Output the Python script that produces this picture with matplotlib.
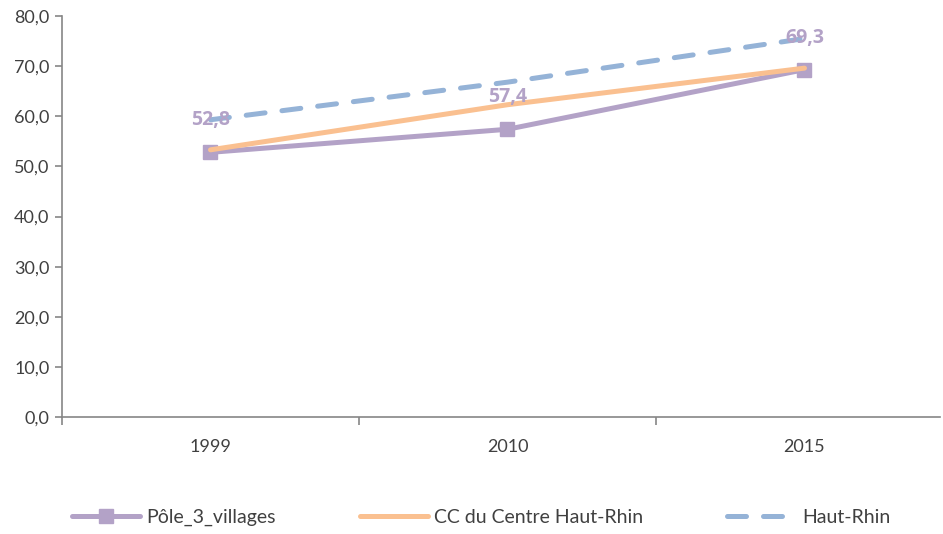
import matplotlib.pyplot as plt

plt.rcParams['font.family'] = ['Lato', 'DejaVu Sans']

# données
annees = ['1999', '2010', '2015']
pole = [52.8, 57.4, 69.3]
cc_centre = [53.3, 62.3, 69.6]
haut_rhin = [59.3, 66.8, 75.5]
labels_pole = ['52,8', '57,4', '69,3']
yticks = [0, 10, 20, 30, 40, 50, 60, 70, 80]

violet = '#B3A2C7'
orange = '#FAC090'
bleu = '#95B3D7'
gris = '#868686'

fig = plt.figure(figsize=(9.43, 5.34), dpi=100)
ax = fig.add_axes([62 / 943, 117 / 534, 878 / 943, 401 / 534])

x = list(range(len(annees)))
ax.plot(x, haut_rhin, color=bleu, lw=3.6, linestyle=(0, (3.8, 3.4)),
        dash_capstyle='round', label='Haut-Rhin', zorder=2)
ax.plot(x, pole, color=violet, lw=3.6, marker='s', markersize=10,
        solid_capstyle='round', label='Pôle_3_villages', zorder=3)
ax.plot(x, cc_centre, color=orange, lw=3.6, solid_capstyle='round',
        label='CC du Centre Haut-Rhin', zorder=4)

for xi, v, t in zip(x, pole, labels_pole):
    ax.annotate(t, (xi, v), xytext=(0, 23), textcoords='offset points',
                ha='center', va='center', color=violet, fontsize=14,
                fontweight='bold', family=['Open Sans', 'DejaVu Sans'],
                zorder=5)

ax.set_xlim(-0.5, -0.5 + 878 / 297)
ax.set_ylim(0, 80)
ax.set_yticks(yticks)
ax.set_yticklabels([f'{v},0' for v in yticks])
ax.set_xticks(x)
ax.set_xticklabels(annees)
ax.set_xticks([-0.5, 0.5, 1.5], minor=True)

for s in ['top', 'right']:
    ax.spines[s].set_visible(False)
for s in ['left', 'bottom']:
    ax.spines[s].set_color(gris)
    ax.spines[s].set_linewidth(1.2)

ax.tick_params(axis='y', colors=gris, labelcolor='#404040', labelsize=13,
               length=5, width=1.2, direction='out', pad=4)
ax.tick_params(axis='x', which='major', length=0, labelsize=13,
               labelcolor='#404040', pad=16)
ax.tick_params(axis='x', which='minor', length=6, width=1.2, colors=gris,
               direction='out')

h, l = ax.get_legend_handles_labels()
order = [1, 2, 0]
fig.legend([h[i] for i in order], [l[i] for i in order], loc='center',
           bbox_to_anchor=(0.51, 15 / 534 + 0.003), ncol=3, frameon=False,
           fontsize=14, handlelength=3.5, columnspacing=4.3,
           labelcolor='#404040', handletextpad=0.35)

fig.savefig('out.png', dpi=100)
